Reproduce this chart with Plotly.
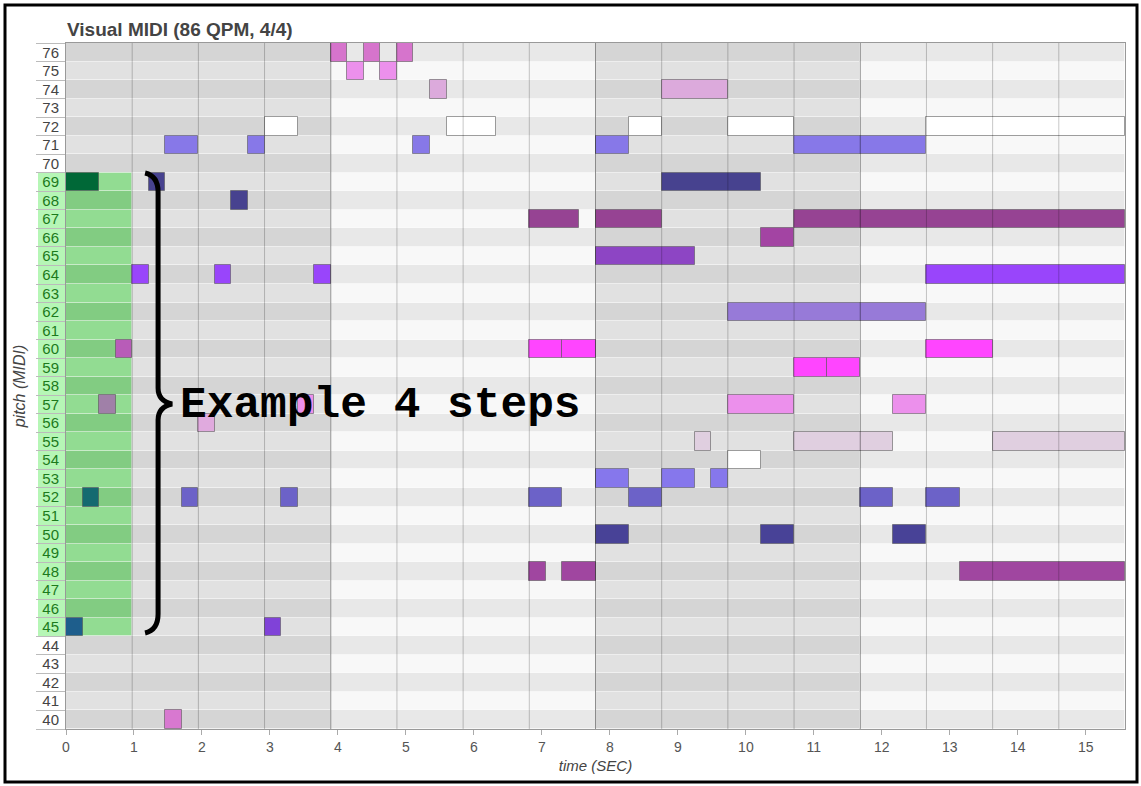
import plotly.graph_objects as go

# ---------------- data ----------------
TITLE = "Visual MIDI (86 QPM, 4/4)"
X_TITLE = "time (SEC)"
Y_TITLE = "pitch (MIDI)"
ANNOT_TEXT = "Example 4 steps"

SEC_PER_BEAT = 0.9735          # grid spacing
N_BEATS = 16
BEATS_PER_MEASURE = 4
PITCH_MIN, PITCH_MAX = 40, 76
HIGHLIGHT_PITCH_LO, HIGHLIGHT_PITCH_HI = 45, 69
HIGHLIGHT_BEAT_END = 1
X_TICKS = list(range(16))

# notes: pitch, onset (beats), offset (beats)
NOTE_PITCH = [76, 76, 76,
              75, 75,
              74, 74,
              72, 72, 72, 72, 72,
              71, 71, 71, 71, 71,
              69, 69, 69,
              68,
              67, 67, 67,
              66,
              65,
              64, 64, 64, 64,
              62,
              60, 60, 60, 60,
              59, 59,
              57, 57, 57, 57,
              56,
              55, 55, 55,
              54,
              53, 53, 53,
              52, 52, 52, 52, 52, 52, 52,
              50, 50, 50,
              48, 48, 48,
              45, 45,
              40]
NOTE_ON = [4, 4.5, 5,
           4.25, 4.75,
           5.5, 9,
           3, 5.75, 8.5, 10, 13,
           1.5, 2.75, 5.25, 8, 11,
           0, 1.25, 9,
           2.5,
           7, 8, 11,
           10.5,
           8,
           1, 2.25, 3.75, 13,
           10,
           0.75, 7, 7.5, 13,
           11, 11.5,
           0.5, 3.5, 10, 12.5,
           2,
           9.5, 11, 14,
           10,
           8, 9, 9.75,
           0.25, 1.75, 3.25, 7, 8.5, 12, 13,
           8, 10.5, 12.5,
           7, 7.5, 13.5,
           0, 3,
           1.5]
NOTE_OFF = [4.25, 4.75, 5.25,
            4.5, 5,
            5.75, 10,
            3.5, 6.5, 9, 11, 16,
            2, 3, 5.5, 8.5, 13,
            0.5, 1.5, 10.5,
            2.75,
            7.75, 9, 16,
            11,
            9.5,
            1.25, 2.5, 4, 16,
            13,
            1, 7.5, 8, 14,
            11.5, 12,
            0.75, 3.75, 11, 13,
            2.25,
            9.75, 12.5, 16,
            10.5,
            8.5, 9.5, 10,
            0.5, 2, 3.5, 7.5, 9, 12.5, 13.5,
            8.5, 11, 13,
            7.25, 8, 16,
            0.25, 3.25,
            1.75]
NOTE_COLOR = ["#d674cc"] * 3 + ["#ec90ec"] * 2 + ["#dcaadc"] * 2 + ["#ffffff"] * 5 \
    + ["#8778e8"] * 5 + ["#006837", "#47428f", "#47428f"] + ["#47428f"] \
    + ["#964393"] * 3 + ["#a344a3"] + ["#8d45c4"] + ["#9945fb"] * 4 + ["#977ad8"] \
    + ["#b85cb8", "#ff45ff", "#ff45ff", "#ff45ff"] + ["#ff45ff"] * 2 \
    + ["#a080a8", "#ec90ec", "#ec90ec", "#ec90ec"] + ["#e0aade"] \
    + ["#e0cfe0"] * 3 + ["#ffffff"] + ["#8677ec"] * 3 \
    + ["#146a70", "#6c62c8", "#6c62c8", "#6c62c8", "#6c62c8", "#6c62c8", "#6c62c8"] \
    + ["#484297"] * 3 + ["#a046a0"] * 3 + ["#1e5e8c", "#8042d8"] + ["#d878d0"]

# ---------------- derived ----------------
pitches = list(range(PITCH_MIN, PITCH_MAX + 1))
n_measures = N_BEATS // BEATS_PER_MEASURE
x_max = N_BEATS * SEC_PER_BEAT

fig = go.Figure()

# background cells (row x measure)
bg_y, bg_base, bg_len, bg_col = [], [], [], []
for m in range(n_measures):
    dark = (m % 2 == 0)
    for p in pitches:
        even = (p % 2 == 0)
        if dark:
            c = "#d5d5d5" if even else "#e1e1e1"
        else:
            c = "#e8e8e8" if even else "#f8f8f8"
        bg_y.append(p)
        bg_base.append(m * BEATS_PER_MEASURE * SEC_PER_BEAT)
        bg_len.append(BEATS_PER_MEASURE * SEC_PER_BEAT)
        bg_col.append(c)
fig.add_trace(go.Bar(orientation="h", y=bg_y, base=bg_base, x=bg_len, width=1,
                     marker=dict(color=bg_col, line=dict(color="rgba(255,255,255,0.35)", width=1)),
                     hoverinfo="skip", showlegend=False))

# highlighted (green) region
hl_p = list(range(HIGHLIGHT_PITCH_LO, HIGHLIGHT_PITCH_HI + 1))
fig.add_trace(go.Bar(orientation="h", y=hl_p, base=[0] * len(hl_p),
                     x=[HIGHLIGHT_BEAT_END * SEC_PER_BEAT] * len(hl_p), width=1,
                     marker=dict(color=["#82cc82" if p % 2 == 0 else "#92dc92" for p in hl_p],
                                 line=dict(color="rgba(255,255,255,0.3)", width=1)),
                     hoverinfo="skip", showlegend=False))

# notes
fig.add_trace(go.Bar(orientation="h", y=NOTE_PITCH,
                     base=[b * SEC_PER_BEAT for b in NOTE_ON],
                     x=[(e - b) * SEC_PER_BEAT for b, e in zip(NOTE_ON, NOTE_OFF)],
                     width=1,
                     marker=dict(color=NOTE_COLOR, line=dict(color="rgba(80,80,80,0.55)", width=1)),
                     hoverinfo="skip", showlegend=False))

# beat and measure lines on top
bx, by, mx, my = [], [], [], []
for b in range(1, N_BEATS):
    xs = b * SEC_PER_BEAT
    if b % BEATS_PER_MEASURE == 0:
        mx += [xs, xs, None]
        my += [PITCH_MIN - 0.5, PITCH_MAX + 0.5, None]
    else:
        bx += [xs, xs, None]
        by += [PITCH_MIN - 0.5, PITCH_MAX + 0.5, None]
fig.add_trace(go.Scatter(x=bx, y=by, mode="lines", line=dict(color="rgba(0,0,0,0.22)", width=1),
                         hoverinfo="skip", showlegend=False))
fig.add_trace(go.Scatter(x=mx, y=my, mode="lines", line=dict(color="rgba(0,0,0,0.42)", width=1),
                         hoverinfo="skip", showlegend=False))

# y tick labels (green for highlighted rows)
tick_text = []
for p in pitches:
    if HIGHLIGHT_PITCH_LO <= p <= HIGHLIGHT_PITCH_HI:
        tick_text.append(f"<span style='color:#1c7a1c'>{p}</span>")
    else:
        tick_text.append(str(p))

shapes = []
# green label boxes
label_w = 28 / 1059
shapes.append(dict(type="rect", xref="paper", yref="y", x0=-label_w, x1=0,
                   y0=HIGHLIGHT_PITCH_LO - 0.5, y1=HIGHLIGHT_PITCH_HI + 0.5,
                   fillcolor="#b6f6b6", line=dict(width=0), layer="below"))
# brace (decoration)
def sx(px):
    return (px - 66) / 67.93
def sy(py):
    return PITCH_MAX + 0.5 - (py - 43) / 18.54
brace = (f"M {sx(145)},{sy(173)} Q {sx(158)},{sy(176)} {sx(158)},{sy(192)} "
         f"L {sx(158)},{sy(388)} Q {sx(158)},{sy(401)} {sx(172)},{sy(404)} "
         f"Q {sx(158)},{sy(407)} {sx(158)},{sy(420)} "
         f"L {sx(158)},{sy(614)} Q {sx(158)},{sy(630)} {sx(145)},{sy(633)}")
shapes.append(dict(type="path", xref="x", yref="y", path=brace,
                   line=dict(color="black", width=5), layer="above"))
# outer frame
shapes.append(dict(type="rect", xref="paper", yref="paper",
                   x0=(5 - 66) / 1059, x1=(1137 - 66) / 1059,
                   y0=(729 - 782) / 686, y1=(729 - 5) / 686,
                   line=dict(color="black", width=3), fillcolor="rgba(0,0,0,0)"))

fig.update_layout(
    width=1141, height=786,
    margin=dict(l=66, r=16, t=43, b=57),
    paper_bgcolor="white", plot_bgcolor="white",
    barmode="overlay", bargap=0,
    font=dict(family="Liberation Sans, Arial, sans-serif", color="#444"),
    title=dict(text=f"<b>{TITLE}</b>", x=67 / 1141, xanchor="left",
               y=1 - 29 / 786, yanchor="middle", yref="container",
               font=dict(size=19, color="#444")),
    shapes=shapes,
    annotations=[dict(text=f"<b>{ANNOT_TEXT}</b>", x=sx(178), y=57, xref="x", yref="y",
                      xanchor="left", yanchor="middle", showarrow=False,
                      font=dict(family="Courier New, Liberation Mono, monospace", size=44.5,
                                color="black"))],
)
fig.update_xaxes(range=[0, x_max], tickvals=X_TICKS, ticktext=[str(v) for v in X_TICKS],
                 ticks="outside", ticklen=5, tickcolor="#aaa", showgrid=False, zeroline=False,
                 showline=True, linecolor="#999", mirror=True,
                 tickfont=dict(size=14, color="#555"),
                 title=dict(text=f"<i>{X_TITLE}</i>", font=dict(size=15, color="#444"), standoff=6))
fig.update_yaxes(range=[PITCH_MIN - 0.5, PITCH_MAX + 0.5], tickvals=pitches, ticktext=tick_text,
                 ticks="", showgrid=False, zeroline=False,
                 showline=True, linecolor="#999", mirror=True,
                 tickfont=dict(size=15, color="#444"), ticklabelstandoff=3,
                 minor=dict(tickvals=[p - 0.5 for p in pitches] + [PITCH_MAX + 0.5],
                            ticks="outside", ticklen=29, tickcolor="#bbb", tickwidth=1,
                            showgrid=False),
                 title=dict(text=f"<i>{Y_TITLE}</i>", font=dict(size=16, color="#444"), standoff=12))

fig.write_html("out.html", config={"displayModeBar": False},
               post_script="document.body.style.margin='0px';")
